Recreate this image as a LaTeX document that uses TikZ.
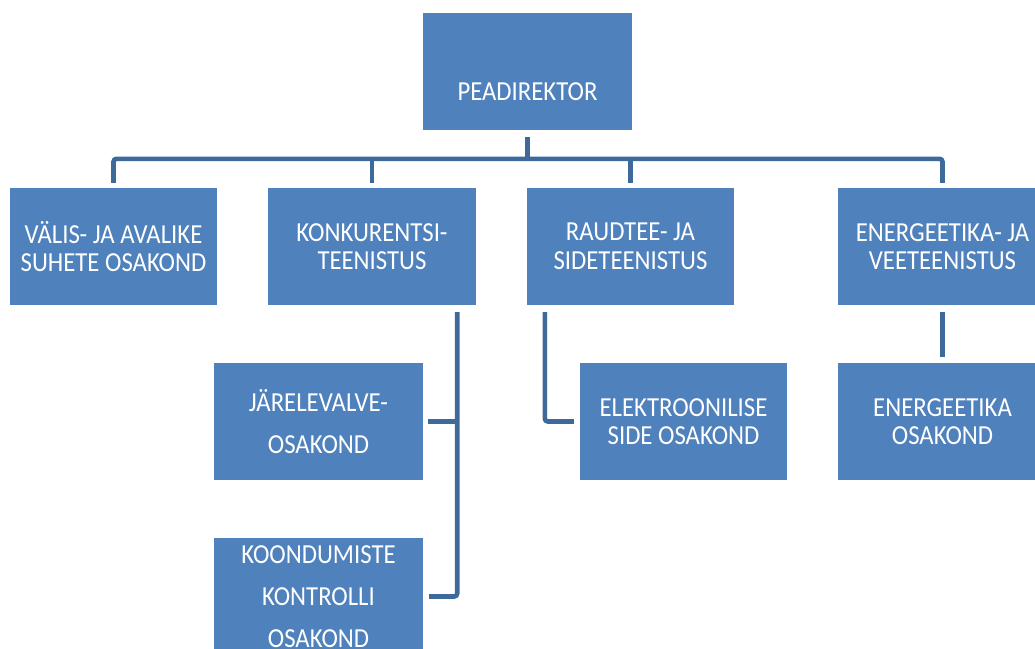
\documentclass[tikz,border=0pt]{standalone}
\usepackage{fontspec}
\setmainfont{Carlito}[FakeStretch=0.9]
\definecolor{boxblue}{RGB}{79,129,189}
\definecolor{linkblue}{RGB}{62,106,155}
\begin{document}
\begin{tikzpicture}[x=1pt,y=1pt,
  box/.style={fill=boxblue, text=white, minimum width=#1, minimum height=117pt,
    inner sep=0pt, align=center, font=\fontsize{27.5}{28.5}\selectfont},
  box/.default=209pt,
  widebox/.style={box=#1, font=\fontsize{27.5}{42}\selectfont},
  widebox/.default=209pt,
  link/.style={draw=linkblue, line width=4.6pt, rounded corners=3pt}]
\useasboundingbox (0,0) rectangle (1035,-648);
\clip (0,0) rectangle (1035,-648);

\node[box] (top) at (527.5,-71.5) {\raisebox{-29pt}[0pt][0pt]{PEADIREKTOR}};

\node[box=207pt] (b1) at (113.5,-246.5) {VÄLIS- JA AVALIKE\\SUHETE OSAKOND};
\node[box=208pt] (b2) at (372,-246.5) {KONKURENTSI-\\TEENISTUS};
\node[box=207pt] (b3) at (630.5,-246.5) {RAUDTEE- JA\\SIDETEENISTUS};
\node[box] (b4) at (942.5,-246.5) {ENERGEETIKA- JA\\VEETEENISTUS};

\node[widebox] (c1) at (318.5,-421.5) {JÄRELEVALVE-\\OSAKOND};
\node[widebox] (c2) at (318.5,-596.5) {KOONDUMISTE\\KONTROLLI\\OSAKOND};
\node[box=207pt] (c3) at (683.5,-421.5) {ELEKTROONILISE\\SIDE OSAKOND};
\node[box] (c4) at (942.5,-421.5) {ENERGEETIKA\\OSAKOND};

% top level connectors
\draw[link] ([yshift=-7pt]top.south) -- ++(0,-22);
\draw[link] ([yshift=5pt]b1.north) -- ++(0,24) -| ([yshift=5pt]b4.north);
\draw[link] ([yshift=5pt]b2.north) -- ++(0,24);
\draw[link] ([yshift=5pt]b3.north) -- ++(0,24);

% Konkurentsiteenistus branch
\coordinate (kt) at ([xshift=-19pt,yshift=-7pt]b2.south east);
\draw[link] (kt) |- ([xshift=6pt]c2.east);
\draw[link] ([xshift=5pt]c1.east) -- (kt |- c1.east);

% Raudtee branch
\draw[link] ([xshift=18pt,yshift=-7pt]b3.south west) |- ([xshift=-6pt]c3.west);

% Energeetika branch
\draw[link] ([yshift=-7pt]b4.south) -- ([yshift=6pt]c4.north);
\end{tikzpicture}
\end{document}
